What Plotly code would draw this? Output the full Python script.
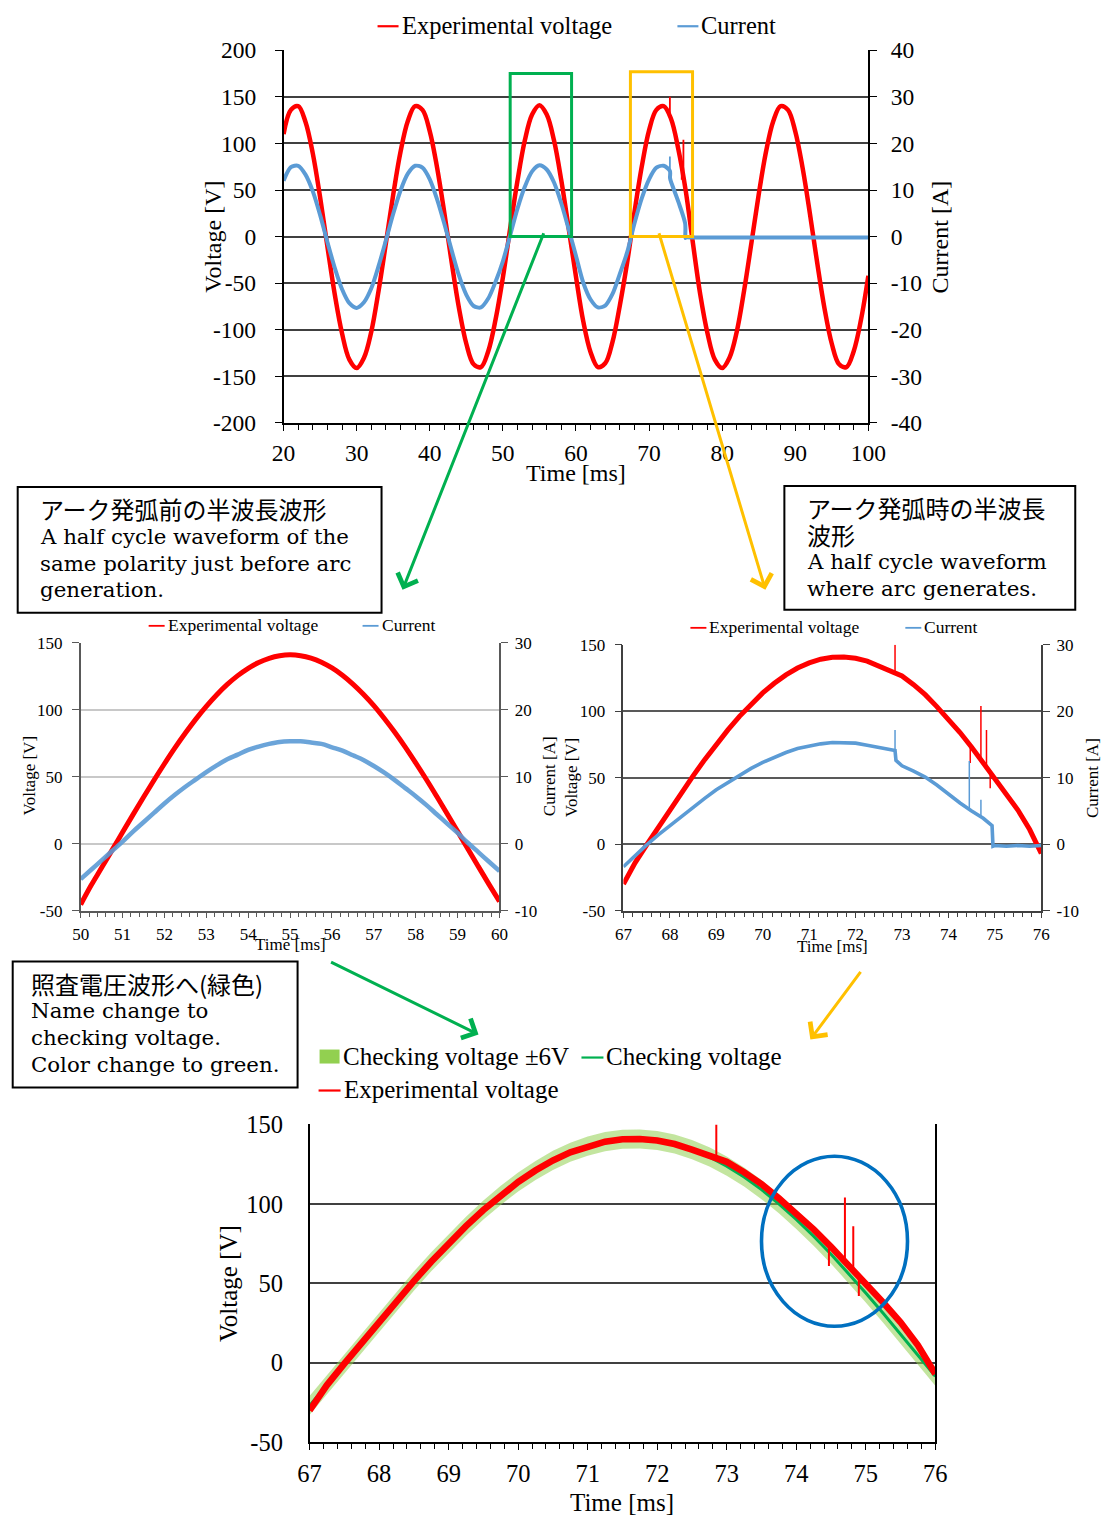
import plotly.graph_objects as go

# target picture size and the measured mapping from figure pixels to picture pixels
W, H = 1102, 1515
SX, BX = 0.9735, 11.3
SY, BY = 0.983, 12.75
FIGW, FIGH = 1115, 1528

# ---------------- data ----------------
# Top chart: 20-100 ms
top_t = list(range(20, 101))
top_v = [110, 136, 140, 123, 89, 42, -11, -62, -104, -132,
         -141, -130, -102, -58, -7, 45, 91, 124, 140, 136,
         113, 74, 25, -28, -77, -115, -137, -140, -123, -89,
         -44, 9, 60, 103, 131, 141, 131, 103, 60, 9,
         -43, -91, -124, -140, -136, -113, -74, -28, 26, 75,
         114, 136, 140, 126.5, 94, 50, -7, -62, -104, -132,
         -141, -130, -102, -58, -7, 45, 91, 124, 140, 136,
         113, 74, 25, -28, -77, -115, -137, -140, -123, -89,
         -42]
top_it = (list(range(20, 73)) + [72.85, 72.87, 73, 74, 74.94, 74.96] + list(range(75, 101)))
top_i = [12.0, 14.9, 15.2, 13.3, 9.7, 4.6, -1.2, -6.7, -11.3, -14.3,
         -15.3, -14.1, -11.1, -6.3, -0.8, 4.9, 9.9, 13.5, 15.2, 14.8,
         12.3, 8.0, 2.7, -3.0, -8.4, -12.5, -14.9, -15.2, -13.3, -9.7,
         -5.3, 0.3, 6.0, 10.7, 14.0, 15.3, 14.4, 11.6, 7.1, 1.6,
         -4.1, -9.9, -13.5, -15.2, -14.8, -12.3, -8.0, -3.4, 2.8, 8.2,
         12.3, 14.8, 15.2,
         14.1, 12.6, 11.8, 7.5, 2.8, -0.3,
         -0.2, -0.2, -0.2, -0.2, -0.2, -0.2, -0.2, -0.2, -0.2, -0.2,
         -0.2, -0.2, -0.2, -0.2, -0.2, -0.2, -0.2, -0.2, -0.2, -0.2,
         -0.2, -0.2, -0.2, -0.2, -0.2, -0.2]

# Half cycle just before the arc: 50-60 ms
pre_t = [50, 50.25, 50.5, 50.75, 51, 51.25, 51.5, 51.75, 52, 52.25, 52.5, 52.75,
         53, 53.25, 53.5, 53.75, 54, 54.25, 54.5, 54.75, 55, 55.25, 55.5, 55.75,
         56, 56.25, 56.5, 56.75, 57, 57.25, 57.5, 57.75, 58, 58.25, 58.5, 58.75,
         59, 59.25, 59.5, 59.75, 60]
pre_v = [-45.5, -31.1, -18.0, -4.8, 8.5, 21.7, 34.7, 47.4, 59.7, 71.5, 82.6, 93.0,
         102.5, 111.2, 118.9, 125.5, 131.0, 135.3, 138.4, 140.3, 141.0, 140.4, 138.6, 135.5,
         131.2, 125.8, 119.2, 111.6, 103.1, 93.5, 83.2, 72.1, 60.3, 48.1, 35.4, 22.4,
         9.2, -4.1, -17.3, -30.4, -43.2]
pre_i = [-5.3, -3.9, -2.5, -1.1, 0.3, 1.8, 3.2, 4.6, 6.0, 7.3, 8.5, 9.6,
         10.7, 11.7, 12.6, 13.3, 14.0, 14.5, 14.9, 15.2, 15.3, 15.3, 15.1, 14.9,
         14.4, 13.9, 13.2, 12.5, 11.6, 10.6, 9.5, 8.3, 7.1, 5.8, 4.4, 3.0,
         1.6, 0.1, -1.3, -2.7, -4.1]

# Half cycle where the arc generates: 67-76 ms
arc_t = [67, 67.25, 67.5, 67.75, 68, 68.25, 68.5, 68.75, 69, 69.25, 69.5, 69.75,
         70, 70.25, 70.5, 70.75, 71, 71.25, 71.5, 71.75, 72, 72.25, 72.5, 72.75,
         72.85, 72.87, 73, 73.25, 73.5, 73.75, 74, 74.25, 74.5, 74.75, 74.94, 74.96,
         75, 75.25, 75.5, 75.75, 76]
arc_v = [-30, -14, -0.5, 12.8, 25.9, 38.9, 51.4, 63.6, 75.1, 86.0, 96.2, 105.4,
         113.8, 121.1, 127.4, 132.5, 136.4, 139.2, 140.7, 140.9, 139.9, 137.7, 134.2, 130.5,
         129.5, 129.2, 126.5, 120.0, 112.5, 103.5, 94.0, 84.0, 73.0, 61.5, 52.8, 51.8,
         50.0, 38.0, 25.5, 11.0, -7.0]
arc_i = [-3.4, -1.7, -0.1, 1.4, 2.8, 4.2, 5.6, 6.9, 8.2, 9.3, 10.4, 11.4,
         12.3, 13.1, 13.8, 14.4, 14.8, 15.1, 15.3, 15.3, 15.2, 14.9, 14.6, 14.3,
         14.1, 12.6, 11.8, 11.0, 10.1, 8.9, 7.5, 6.2, 5.0, 3.9, 2.8, -0.3,
         -0.2, -0.3, -0.2, -0.3, -0.2]

# Voltage spikes during the arc
vspike_t = [72.85, 74.47, 74.70, 74.82, 74.90]
vspike_base = [129.5, 74, 62, 57, 54]
vspike_peak = [150, 61, 104, 86, 42]
# Current spikes during the arc
ispike_t = [72.85, 74.45, 74.70]
ispike_base = [14.1, 5.3, 4.1]
ispike_peak = [17.2, 12.5, 6.7]

# Checking voltage (pre-arc half cycle moved onto the arc half cycle)
chk_t = [67, 67.25, 67.5, 67.75, 68, 68.25, 68.5, 68.75, 69, 69.25, 69.5, 69.75,
         70, 70.25, 70.5, 70.75, 71, 71.25, 71.5, 71.75, 72, 72.25, 72.5, 72.75,
         73, 73.25, 73.5, 73.75, 74, 74.25, 74.5, 74.75, 75, 75.25, 75.5, 75.75, 76]
chk_v = [-26.9, -13.8, -0.5, 12.8, 25.9, 38.9, 51.4, 63.6, 75.1, 86.0, 96.2, 105.4,
         113.8, 121.1, 127.4, 132.5, 136.4, 139.2, 140.7, 140.9, 139.9, 137.7, 134.2, 129.6,
         123.8, 116.9, 109.0, 100.1, 90.3, 79.7, 68.4, 56.4, 44.0, 31.2, 18.2, 4.9, -8.4]
chk_tol = 6

# tick values / labels
top_vticks = [-200, -150, -100, -50, 0, 50, 100, 150, 200]
top_iticks = [-40, -30, -20, -10, 0, 10, 20, 30, 40]
mid_vticks = [-50, 0, 50, 100, 150]
mid_iticks = [-10, 0, 10, 20, 30]

# ---------------- styling ----------------
SERIF = "Liberation Serif"
BOXEN = "DejaVu Serif"
CJK = "Noto Sans CJK JP"
RED = "#FF0000"
BLUE = "#5B9BD5"
GREEN = "#00B050"
LGREEN = "rgba(146,208,80,0.55)"
YEL = "#FFC000"
EBLUE = "#0070C0"


def px(x):
    return ((x - BX) / SX) / FIGW


def py(y):
    return 1 - ((y - BY) / SY) / FIGH


def segs(ts, a, b):
    xs, ys = [], []
    for t, lo, hi in zip(ts, a, b):
        xs += [t, t, None]
        ys += [lo, hi, None]
    return xs, ys


fig = go.Figure()

# ----- top chart -----
fig.add_trace(go.Scatter(x=top_t, y=top_v, mode="lines", xaxis="x", yaxis="y",
                         line=dict(color=RED, width=4.5, shape="spline")))
sx, sy = segs(vspike_t[:3], vspike_base[:3], vspike_peak[:3])
fig.add_trace(go.Scatter(x=sx, y=sy, mode="lines", xaxis="x", yaxis="y",
                         line=dict(color=RED, width=1.8)))
fig.add_trace(go.Scatter(x=top_it, y=top_i, mode="lines", xaxis="x", yaxis="y2",
                         line=dict(color=BLUE, width=4, shape="spline", smoothing=0.8)))
sx, sy = segs(ispike_t[:1], ispike_base[:1], ispike_peak[:1])
fig.add_trace(go.Scatter(x=sx, y=sy, mode="lines", xaxis="x", yaxis="y2",
                         line=dict(color=BLUE, width=1.8)))

# ----- middle-left chart -----
fig.add_trace(go.Scatter(x=pre_t, y=pre_v, mode="lines", xaxis="x2", yaxis="y3",
                         line=dict(color=RED, width=5, shape="spline")))
fig.add_trace(go.Scatter(x=pre_t, y=pre_i, mode="lines", xaxis="x2", yaxis="y4",
                         line=dict(color=BLUE, width=4.5, shape="spline"), opacity=0.9))

# ----- middle-right chart -----
fig.add_trace(go.Scatter(x=arc_t, y=arc_v, mode="lines", xaxis="x3", yaxis="y5",
                         line=dict(color=RED, width=5)))
sx, sy = segs(vspike_t, vspike_base, vspike_peak)
fig.add_trace(go.Scatter(x=sx, y=sy, mode="lines", xaxis="x3", yaxis="y5",
                         line=dict(color=RED, width=1.5)))
fig.add_trace(go.Scatter(x=arc_t, y=arc_i, mode="lines", xaxis="x3", yaxis="y6",
                         line=dict(color=BLUE, width=3.6)))
sx, sy = segs(ispike_t, ispike_base, ispike_peak)
fig.add_trace(go.Scatter(x=sx, y=sy, mode="lines", xaxis="x3", yaxis="y6",
                         line=dict(color=BLUE, width=1.5)))

# ----- bottom chart -----
fig.add_trace(go.Scatter(x=chk_t, y=[v + chk_tol for v in chk_v], mode="lines", xaxis="x4", yaxis="y7",
                         line=dict(color=LGREEN, width=0)))
fig.add_trace(go.Scatter(x=chk_t, y=[v - chk_tol for v in chk_v], mode="lines", xaxis="x4", yaxis="y7",
                         line=dict(color=LGREEN, width=0), fill="tonexty", fillcolor=LGREEN))
fig.add_trace(go.Scatter(x=chk_t, y=chk_v, mode="lines", xaxis="x4", yaxis="y7",
                         line=dict(color=GREEN, width=3)))
fig.add_trace(go.Scatter(x=arc_t, y=arc_v, mode="lines", xaxis="x4", yaxis="y7",
                         line=dict(color=RED, width=6.6)))
sx, sy = segs(vspike_t, vspike_base, vspike_peak)
fig.add_trace(go.Scatter(x=sx, y=sy, mode="lines", xaxis="x4", yaxis="y7",
                         line=dict(color=RED, width=2)))


def tfont(size):
    return dict(family=SERIF, size=size, color="black")


def xax(dom, rng, dtick, minor, size, lc, standoff, anchor):
    return dict(domain=dom, range=rng, dtick=dtick, tick0=rng[0], ticks="outside", ticklen=6,
                tickcolor=lc, tickwidth=1.3, showline=True, linecolor=lc, linewidth=1.5,
                showgrid=False, zeroline=False, tickfont=tfont(size), ticklabelstandoff=standoff,
                minor=dict(dtick=minor, ticks="outside", ticklen=5, tickcolor=lc, tickwidth=1.2, showgrid=False),
                anchor=anchor, fixedrange=True)


def yax(dom, rng, ticks, size, anchor, gridc, lc, standoff, side="left", overlay=None, tick_on=True):
    d = dict(domain=dom, range=rng, tickmode="array", tickvals=ticks, ticktext=[str(v) for v in ticks],
             anchor=anchor, side=side, showline=True, linecolor=lc, linewidth=1.5,
             ticks="outside" if tick_on else "", ticklen=7, tickcolor=lc, zeroline=False,
             tickfont=tfont(size), ticklabelstandoff=standoff, fixedrange=True)
    if gridc:
        d.update(showgrid=True, gridcolor=gridc, gridwidth=1.5)
    else:
        d.update(showgrid=False)
    if overlay:
        d.update(overlaying=overlay)
        d.pop("domain")
    return d


fig.update_layout(
    width=FIGW, height=FIGH, margin=dict(l=0, r=0, t=0, b=0), autosize=False,
    paper_bgcolor="white", plot_bgcolor="white", showlegend=False,
    xaxis=xax([px(283), px(868)], [20, 100], 10, 2, 23.5, "black", 2, "y"),
    yaxis=yax([py(423), py(50)], [-200, 200], top_vticks, 23.5, "x", "#404040", "black", 14),
    yaxis2=yax(None, [-40, 40], top_iticks, 23.5, "x", None, "black", 9, side="right", overlay="y"),
    xaxis2=xax([px(80), px(499)], [50, 60], 1, 0.2, 17, "#595959", 1, "y3"),
    yaxis3=yax([py(911), py(643)], [-50, 150], mid_vticks, 17, "x2", "#C8C8C8", "#595959", 6),
    yaxis4=yax(None, [-10, 30], mid_iticks, 17, "x2", None, "#595959", 3, side="right", overlay="y3"),
    xaxis3=xax([px(623), px(1041)], [67, 76], 1, 0.2, 17, "#404040", 1, "y5"),
    yaxis5=yax([py(911), py(645)], [-50, 150], mid_vticks, 17, "x3", "#595959", "#404040", 6),
    yaxis6=yax(None, [-10, 30], mid_iticks, 17, "x3", None, "#404040", 3, side="right", overlay="y5"),
    xaxis4=xax([px(309), px(935)], [67, 76], 1, 0.2, 24.5, "black", 3, "y7"),
    yaxis7=yax([py(1443), py(1125)], [-50, 150], mid_vticks, 24.5, "x4", "#404040", "black", 20, tick_on=False),
)
fig.layout.yaxis7.mirror = True

# ----- annotations: axis titles -----
def ann(x, y, text, size, family=SERIF, xanchor="center", angle=0):
    fig.add_annotation(x=px(x), y=py(y), xref="paper", yref="paper", text=text, showarrow=False,
                       xanchor=xanchor, yanchor="middle", textangle=angle,
                       font=dict(family=family, size=size, color="black"))


ann(212, 237, "Voltage [V]", 24, angle=-90)
ann(940, 237, "Current [A]", 24, angle=-90)
ann(576, 473, "Time [ms]", 24)
ann(29, 776, "Voltage [V]", 17, angle=-90)
ann(549, 776, "Current [A]", 17, angle=-90)
ann(290, 945, "Time [ms]", 17)
ann(571, 778, "Voltage [V]", 17, angle=-90)
ann(1092, 778, "Current [A]", 17, angle=-90)
ann(832, 947, "Time [ms]", 17)
ann(228, 1284, "Voltage [V]", 25, angle=-90)
ann(622, 1503, "Time [ms]", 25)

# ----- legends (colored line sample + text) -----
def legend_item(x0, x1, y, color, text, size, lw=2.2):
    fig.add_shape(type="line", xref="paper", yref="paper", x0=px(x0), x1=px(x1), y0=py(y + 1), y1=py(y + 1),
                  line=dict(color=color, width=lw))
    ann(x1 + 1, y, text, size, xanchor="left")


legend_item(377, 398, 25, RED, "Experimental voltage", 24.5)
legend_item(677, 698, 25, BLUE, "Current", 24.5)
legend_item(148, 164, 625, RED, "Experimental voltage", 17.5, 1.8)
legend_item(362, 378, 625, BLUE, "Current", 17.5, 1.8)
legend_item(690, 706, 627, RED, "Experimental voltage", 17.5, 1.8)
legend_item(905, 921, 627, BLUE, "Current", 17.5, 1.8)
fig.add_shape(type="rect", xref="paper", yref="paper", x0=px(319), x1=px(339), y0=py(1064), y1=py(1050),
              fillcolor="#92D050", line=dict(width=0))
ann(340, 1057, "Checking voltage \u00b16V", 25, xanchor="left")
legend_item(581, 603, 1057, GREEN, "Checking voltage", 25)
legend_item(318, 340, 1090, RED, "Experimental voltage", 25)

# ----- text boxes -----
boxes = [
    (17, 487, 381, 613, 37, [509, 537, 564, 590],
     ["アーク発弧前の半波長波形", "A half cycle waveform of the", "same polarity just before arc", "generation."], 1),
    (784, 486, 1075, 610, 805, [508, 535, 562, 589],
     ["アーク発弧時の半波長", "波形", "A half cycle waveform", "where arc generates."], 2),
    (12, 962, 297, 1088, 28, [984, 1011, 1038, 1065],
     ["照査電圧波形へ(緑色)", "Name change to", "checking voltage.", "Color change to green."], 1),
]
for x0, y0, x1, y1, tx, ys, lines, njp in boxes:
    fig.add_shape(type="rect", xref="paper", yref="paper", x0=px(x0), x1=px(x1), y0=py(y1), y1=py(y0),
                  line=dict(color="black", width=2), fillcolor="rgba(0,0,0,0)")
    for k, (yy, s) in enumerate(zip(ys, lines)):
        if k < njp:
            ann(tx, yy, s, 24, family=CJK, xanchor="left")
        else:
            ann(tx, yy, s, 21.3, family=BOXEN, xanchor="left")

# ----- highlight rectangles on the top chart -----
fig.add_shape(type="rect", xref="x", yref="y", x0=51.0, x1=59.4, y0=0, y1=175,
              line=dict(color=GREEN, width=3))
fig.add_shape(type="rect", xref="x", yref="y", x0=67.45, x1=75.95, y0=0, y1=177,
              line=dict(color=YEL, width=3))

# ----- ellipse on the bottom chart -----
fig.add_shape(type="circle", xref="x4", yref="y7", x0=73.5, x1=75.6, y0=23, y1=130,
              line=dict(color=EBLUE, width=3.6))

# ----- arrows -----
def arrow(tx, ty, hx, hy, color):
    fig.add_annotation(x=px(hx), y=py(hy), xref="paper", yref="paper",
                       ax=(tx - hx) / SX, ay=(ty - hy) / SY,
                       axref="pixel", ayref="pixel", text="", showarrow=True, arrowhead=4,
                       arrowsize=1.4, arrowwidth=3, arrowcolor=color, standoff=0, startstandoff=0)


arrow(540, 238, 402, 590, GREEN)
arrow(661, 238, 765, 590, YEL)
arrow(333, 963, 478, 1035, GREEN)
arrow(860, 972, 810, 1040, YEL)

fig.write_html("out.html")
